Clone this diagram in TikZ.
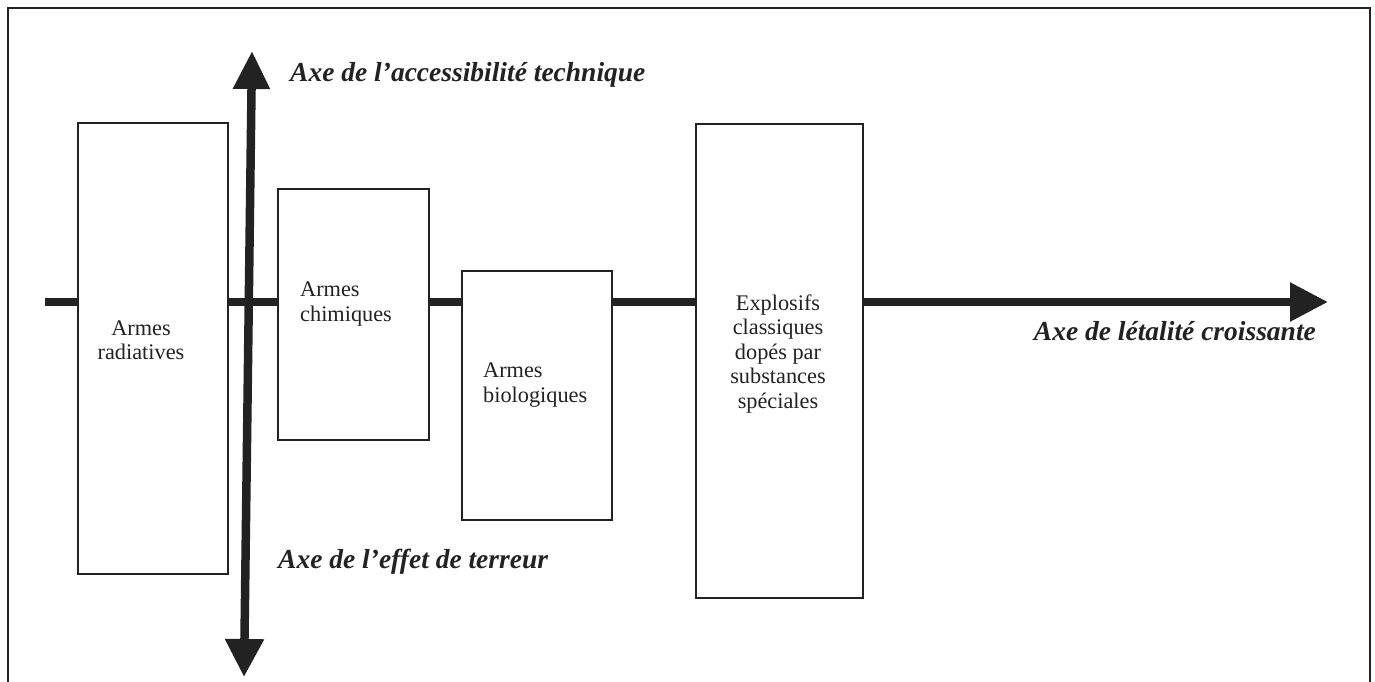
\documentclass[tikz,border=0pt]{standalone}
\usepackage{fontspec}
\setmainfont{Liberation Serif}
\usetikzlibrary{arrows.meta}
\definecolor{ink}{HTML}{222222}
\tikzset{
  axis/.style={draw=ink, line width=8.5pt},
  weaponbox/.style={draw=ink, line width=1.6pt, fill=white},
  boxtext/.style={font=\fontsize{22.3}{24.5}\selectfont, inner sep=0pt, text=ink},
  axislabel/.style={font=\fontsize{27.5}{30}\selectfont\bfseries\itshape, inner sep=0pt, text=ink},
}
\begin{document}
\begin{tikzpicture}[x=1pt, y=-1pt]
\useasboundingbox (0,0) rectangle (1375,681);
% outer frame, open at the bottom
\draw[ink, line width=1.6pt] (8,690) -- (8,8) -- (1370,8) -- (1370,690);

% axis end points
\coordinate (hL) at (45,302);
\coordinate (hR) at (1328,302);
\coordinate (vT) at (252,51);
\coordinate (vB) at (244,677);

% axes
\draw[axis, -{Triangle[length=38pt, width=37pt]}] (hL) -- (hR);
\draw[axis, {Triangle[length=38pt, width=35pt]}-{Triangle[length=38pt, width=37pt]}] (vT) -- (vB);

% weapon boxes (drawn over the horizontal axis)
\path[weaponbox] (78,123) rectangle (228,574);
\path[weaponbox] (278,189) rectangle (429,440);
\path[weaponbox] (462,271) rectangle (612,520);
\path[weaponbox] (696,124) rectangle (863,598);

\node[boxtext, align=center] (rad) at (141,340) {Armes\\radiatives};
\node[boxtext, align=left, anchor=west] (chi) at (300,304) {Armes\\chimiques};
\node[boxtext, align=left, anchor=west] (bio) at (483,385) {Armes\\biologiques};
\node[boxtext, align=center] (exp) at (778,354) {Explosifs\\classiques\\dopés par\\substances\\spéciales};

% axis labels
\node[axislabel, anchor=west] (acc) at (290,75) {Axe de l’accessibilité technique};
\node[axislabel, anchor=west] (ter) at (278,562) {Axe de l’effet de terreur};
\node[axislabel, anchor=east] (let) at (1316,331) {Axe de létalité croissante};
\end{tikzpicture}
\end{document}
